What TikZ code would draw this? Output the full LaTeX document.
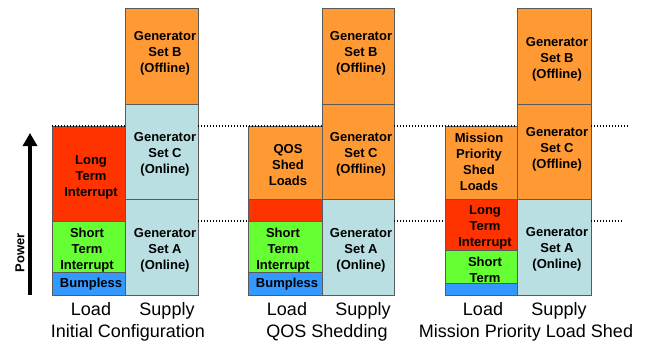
\documentclass[tikz,border=0pt]{standalone}
\usepackage{fontspec}
\setmainfont{Liberation Sans}
\usetikzlibrary{arrows.meta}
\definecolor{org}{HTML}{FF9933}
\definecolor{lblue}{HTML}{B9DFE2}
\definecolor{rd}{HTML}{FF3300}
\definecolor{gr}{HTML}{66FF33}
\definecolor{bl}{HTML}{3399FF}
\definecolor{edge}{HTML}{5A5A5A}
\tikzset{
  bar/.style={draw=edge, line width=0.8pt},
  lab/.style={font=\fontsize{13}{16}\selectfont\bfseries, align=center, inner sep=0pt},
  captxt/.style={font=\fontsize{18}{20}\selectfont, inner sep=0pt, anchor=base},
  guide/.style={line width=1.1pt, dash pattern=on 1.2pt off 1.8pt},
}
\begin{document}
\begin{tikzpicture}[x=1pt,y=-1pt]
\useasboundingbox (0,0) rectangle (648,345);
% ---------- panel 1 ----------
\path[bar, fill=org]   (125,8)   rectangle (198,104);
\path[bar, fill=lblue] (125,104) rectangle (198,199);
\path[bar, fill=lblue] (125,199) rectangle (198,295);
\path[bar, fill=rd]    (52,126)  rectangle (125,221);
\path[bar, fill=gr]    (52,221)  rectangle (125,272);
\path[bar, fill=bl]    (52,272)  rectangle (125,295);
\node[lab] (b1) at (165,53)  {Generator\\Set B\\(Offline)};
\node[lab] (c1) at (165,154) {Generator\\Set C\\(Online)};
\node[lab] (a1) at (165,250) {Generator\\Set A\\(Online)};
\node[lab] (l1) at (91,177)  {Long\\Term\\Interrupt};
\node[lab] (s1) at (87,250)  {Short\\Term\\Interrupt};
\node[lab] (u1) at (91,284)  {Bumpless};
% ---------- panel 2 ----------
\path[bar, fill=org]   (322,8)   rectangle (394,104);
\path[bar, fill=org]   (322,104) rectangle (394,199);
\path[bar, fill=lblue] (322,199) rectangle (394,295);
\path[bar, fill=org]   (248,126) rectangle (322,199);
\path[bar, fill=rd]    (248,199) rectangle (322,221);
\path[bar, fill=gr]    (248,221) rectangle (322,272);
\path[bar, fill=bl]    (248,272) rectangle (322,295);
\node[lab] (b2) at (361,53)  {Generator\\Set B\\(Offline)};
\node[lab] (c2) at (361,154) {Generator\\Set C\\(Offline)};
\node[lab] (a2) at (361,250) {Generator\\Set A\\(Online)};
\node[lab] (q2) at (288,165) {QOS\\Shed\\Loads};
\node[lab] (s2) at (283,250) {Short\\Term\\Interrupt};
\node[lab] (u2) at (287,284) {Bumpless};
% ---------- panel 3 ----------
\path[bar, fill=org]   (517,8)   rectangle (591,104);
\path[bar, fill=org]   (517,104) rectangle (591,199);
\path[bar, fill=lblue] (517,199) rectangle (591,295);
\path[bar, fill=org]   (445,126) rectangle (517,199);
\path[bar, fill=rd]    (445,199) rectangle (517,250);
\path[bar, fill=gr]    (445,250) rectangle (517,283);
\node[lab] (b3) at (557,59)  {Generator\\Set B\\(Offline)};
\node[lab] (c3) at (557,149) {Generator\\Set C\\(Offline)};
\node[lab] (a3) at (557,249) {Generator\\Set A\\(Online)};
\node[lab] (m3) at (479,162) {Mission\\Priority\\Shed\\Loads};
\node[lab] (l3) at (485,227) {Long\\Term\\Interrupt};
\node[lab] (s3) at (485,270) {Short\\Term};
\path[bar, fill=bl]    (445,283) rectangle (517,295);
% ---------- dotted guides ----------
\draw[guide] (52,126) -- (125,126);
\draw[guide] (198,126) -- (322,126);
\draw[guide] (394,126) -- (517,126);
\draw[guide] (591,126) -- (628,126);
\draw[guide] (198,221) -- (248,221);
\draw[guide] (394,221) -- (445,221);
\draw[guide] (591,221) -- (623,221);
% ---------- power arrow ----------
\coordinate (pbot) at (30,295);
\coordinate (ptop) at (30,133);
\draw[line width=4pt, -{Triangle[width=14pt,length=13pt]}] (pbot) -- (ptop);
\node[lab, rotate=90] (power) at (20,253) {Power};
% ---------- captions ----------
\node[captxt] (ld1) at (91,315)  {Load};
\node[captxt] (sp1) at (167,315) {Supply};
\node[captxt] (t1)  at (128,337) {Initial Configuration};
\node[captxt] (ld2) at (287,315) {Load};
\node[captxt] (sp2) at (363,315) {Supply};
\node[captxt] (t2)  at (327,337) {QOS Shedding};
\node[captxt] (ld3) at (483,315) {Load};
\node[captxt] (sp3) at (559,315) {Supply};
\node[captxt] (t3)  at (526,337) {Mission Priority Load Shed};
\end{tikzpicture}
\end{document}
